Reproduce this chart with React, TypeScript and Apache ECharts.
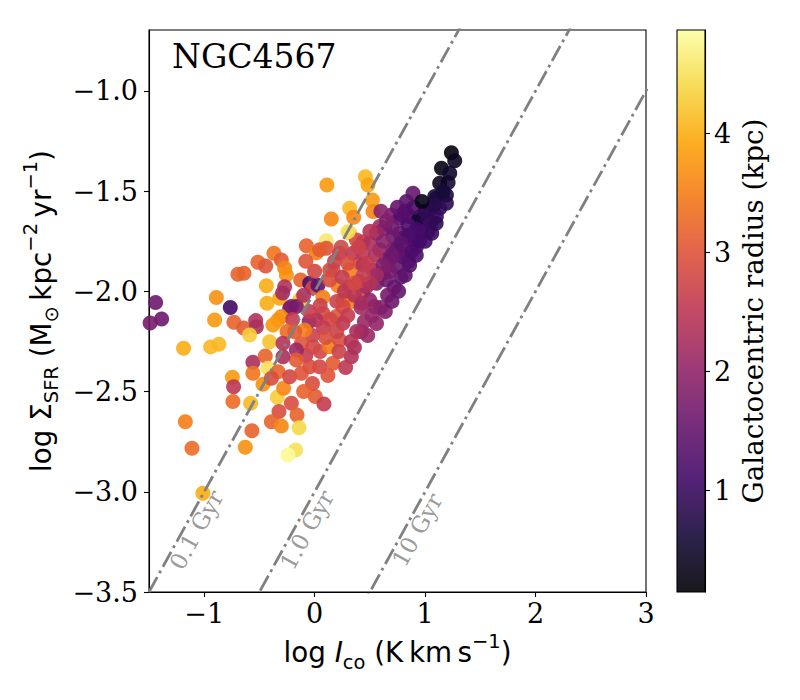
import React, { useEffect, useRef } from "react";
import * as echarts from "echarts";

// ---------- data ----------
const xTicks = [-1, 0, 1, 2, 3];
const yTicks = [-3.5, -3.0, -2.5, -2.0, -1.5, -1.0];
const colorbarTicks = [1, 2, 3, 4];
const xRange = [-1.5, 3];
const yRange = [-3.5, -0.696];
const radiusRange = [0.147, 4.866];

const galaxyName = "NGC4567";
const depletionLabels = ["0.1 Gyr", "1.0 Gyr", "10 Gyr"];
const depletionIntercepts = [-2, -3, -4];
const depletionLineX = [-1.5, 3.5];
const depletionLabelX = [-1.07, -0.07, 0.93];
const depletionLabelY = [-3.19, -3.19, -3.19];

const inferno = [
  "#000004", "#160b39", "#420a68", "#6a176e", "#932667", "#bc3754",
  "#dd513a", "#f37819", "#fca50a", "#f6d746", "#fcffa4",
];

// [log I_co, log Sigma_SFR, radius (kpc)]
const outerPoints: number[][] = [
  [-1.44, -2.056, 1.6], [-1.386, -2.138, 1.6], [-1.49, -2.158, 1.7],
  [-0.764, -2.081, 1.1], [-0.89, -2.031, 3.7], [-0.906, -2.143, 3.8],
  [-0.731, -2.154, 3.2], [-0.643, -2.183, 3.1], [-0.534, -2.146, 2.4],
  [-0.528, -2.176, 2.3], [-0.589, -2.218, 4.3], [-0.695, -1.915, 3.2],
  [-0.64, -1.91, 3.2], [-0.514, -1.855, 3.2], [-0.444, -1.873, 3.0],
  [-0.369, -1.81, 3.4], [-0.302, -1.843, 3.1], [-0.272, -1.883, 3.6],
  [-0.437, -1.972, 4.0], [-0.432, -2.059, 4.0], [-1.187, -2.284, 4.0],
  [-0.942, -2.277, 4.1], [-0.867, -2.264, 4.1], [-0.408, -2.251, 4.2],
  [-0.559, -2.354, 2.3], [-0.447, -2.322, 3.2], [-0.423, -2.384, 4.5],
  [-0.559, -2.409, 3.4], [-0.468, -2.464, 3.7], [-0.745, -2.429, 3.8],
  [-0.734, -2.476, 2.5], [-0.74, -2.55, 3.3], [-0.58, -2.558, 4.1],
  [-0.338, -2.528, 4.3], [-0.281, -2.484, 3.6], [-0.211, -2.558, 2.9],
  [-0.323, -2.6, 2.9], [-0.16, -2.617, 3.2], [0.006, -2.525, 3.1],
  [0.084, -2.562, 2.6], [-0.392, -2.65, 3.2], [-0.302, -2.672, 3.6],
  [-0.142, -2.68, 4.4], [-1.171, -2.65, 3.5], [-1.111, -2.783, 3.3],
  [-0.568, -2.695, 3.2], [-0.628, -2.778, 3.7], [-0.172, -2.791, 4.5],
  [-0.242, -2.816, 4.8], [-1.012, -3.007, 4.0],
];

const leftBlobPoints: number[][] = [
  [-0.256, -1.918, 3.7], [-0.272, -1.977, 2.4], [-0.127, -1.943, 3.2],
  [-0.317, -2.034, 3.9], [-0.226, -2.084, 1.6], [-0.136, -2.043, 4.2],
  [-0.075, -1.773, 3.2], [0.015, -1.808, 3.5], [-0.045, -1.96, 1.2],
  [-0.018, -1.983, 2.8], [-0.29, -2.008, 2.2], [-0.302, -2.126, 3.7],
  [-0.211, -2.076, 1.8], [-0.166, -2.076, 1.7], [-0.05, -2.15, 1.9],
  [0.03, -1.97, 1.4], [-0.02, -2.22, 2.7], [-0.12, -2.26, 3.0],
  [0.05, -2.3, 2.8], [-0.2, -2.14, 2.6], [-0.25, -2.2, 3.3],
  [-0.08, -2.32, 2.6],
];

const ridgePoints: number[][] = [
  [0.106, -1.747, 4.6], [0.106, -1.785, 3.0], [0.226, -1.81, 2.5],
  [0.317, -1.71, 4.3], [0.378, -1.744, 2.8], [0.075, -2.029, 3.5],
  [0.211, -1.972, 3.5], [0.136, -1.893, 2.9], [0.317, -1.893, 3.5],
  [0.408, -1.86, 3.2], [0.256, -2.043, 3.1], [0.332, -2.051, 3.5],
  [0.437, -2.001, 2.9], [0.196, -2.126, 3.0], [0.256, -2.159, 2.5],
  [0.423, -2.201, 2.2], [0.075, -2.109, 2.8], [0.015, -2.143, 2.4],
  [-0.091, -2.193, 3.5], [-0.181, -2.201, 3.1], [-0.332, -2.143, 3.7],
  [-0.378, -2.168, 3.8], [-0.287, -2.259, 2.4], [-0.166, -2.292, 2.1],
  [-0.015, -2.276, 2.8], [0.136, -2.276, 3.5], [0.226, -2.243, 2.9],
  [0.332, -2.326, 2.4], [0.166, -2.359, 3.1], [0.045, -2.376, 2.8],
  [-0.045, -2.376, 2.9], [-0.166, -2.342, 3.1], [-0.287, -2.326, 2.3],
  [-0.332, -2.401, 3.2], [-0.226, -2.426, 2.8], [-0.12, -2.409, 3.0],
  [-0.392, -2.434, 2.9], [0.36, -2.02, 2.4], [0.2, -2.05, 2.7],
  [0.14, -2.14, 2.8], [0.08, -2.18, 2.6], [0.22, -2.3, 2.7],
  [0.28, -2.38, 2.5], [0.12, -2.42, 3.0], [-0.02, -2.46, 2.9],
  [-0.1, -2.5, 3.2], [0.36, -2.28, 2.3], [0.48, -2.22, 2.1],
];

const upperPoints: number[][] = [
  [0.459, -1.428, 4.1], [0.483, -1.469, 3.9], [0.111, -1.469, 3.8],
  [0.317, -1.585, 4.1], [0.523, -1.544, 3.8], [0.528, -1.602, 3.6],
  [0.353, -1.63, 3.6], [0.151, -1.639, 3.6], [0.302, -1.702, 4.5],
  [0.045, -1.793, 3.1], [0.437, -1.752, 2.6], [0.589, -1.677, 2.2],
  [0.695, -1.619, 1.7], [0.77, -1.635, 1.5], [0.861, -1.627, 1.3],
  [0.89, -1.51, 1.5], [0.936, -1.644, 0.9], [1.102, -1.535, 0.7],
  [1.193, -1.56, 0.9], [1.042, -1.594, 0.8], [0.981, -1.677, 1.1],
  [1.026, -1.702, 1.2], [0.861, -1.727, 1.3], [0.77, -1.71, 1.5],
  [0.921, -1.777, 1.2], [0.8, -1.81, 1.4], [0.709, -1.793, 1.6],
  [0.589, -1.793, 2.0], [0.498, -1.76, 2.3], [0.649, -1.843, 1.8],
  [0.74, -1.877, 1.5], [0.619, -1.91, 1.9], [0.528, -1.893, 2.2],
  [0.437, -1.868, 2.4], [0.347, -1.81, 2.5], [0.437, -1.81, 2.5],
  [0.166, -1.893, 2.8], [0.317, -1.977, 2.7], [0.468, -1.977, 2.2],
  [0.559, -1.96, 1.8], [0.649, -1.943, 1.6], [0.498, -2.043, 2.0],
  [0.423, -2.059, 2.3], [0.543, -2.076, 2.0], [0.136, -1.943, 2.9],
  [0.256, -2.076, 2.8],
];

const innerPoints: number[][] = [
  [1.208, -1.457, 0.6], [1.193, -1.519, 0.7], [1.087, -1.527, 0.65],
  [0.831, -1.552, 1.4], [1.132, -1.585, 0.9], [0.95, -1.63, 0.55],
  [1.026, -1.635, 0.9], [1.102, -1.627, 1.0], [0.785, -1.619, 1.3],
  [0.845, -1.669, 1.2], [0.951, -1.71, 1.2], [0.8, -1.735, 1.3],
  [0.89, -1.752, 1.3], [0.634, -1.685, 1.8], [0.559, -1.71, 2.1],
  [0.709, -1.727, 1.6], [0.74, -1.793, 1.5], [0.8, -1.827, 1.4],
  [0.679, -1.843, 1.7], [0.78, -1.93, 1.4], [0.72, -1.98, 1.5],
  [0.66, -2.02, 1.7], [0.6, -2.08, 1.9], [0.52, -2.12, 2.0],
  [0.45, -2.15, 2.1], [0.38, -2.2, 2.3], [0.33, -2.25, 2.4],
  [0.25, -1.93, 2.6], [0.4, -1.95, 2.7], [0.55, -1.82, 2.3],
  [0.62, -1.75, 1.9], [0.3, -2.12, 2.6], [0.2, -2.2, 2.7],
  [0.1, -2.23, 2.9], [0.48, -1.86, 2.6], [0.68, -1.9, 1.7],
  [0.85, -1.85, 1.3], [0.88, -1.8, 1.2], [0.95, -1.75, 1.1],
  [1.05, -1.66, 1.0], [0.7, -1.68, 1.6], [0.42, -2.08, 2.2],
  [0.27, -2.0, 2.5], [0.05, -2.07, 2.7], [-0.05, -2.1, 2.6],
  [-0.1, -2.02, 2.3], [0.0, -1.9, 2.8], [-0.08, -1.85, 3.0],
  [0.18, -1.85, 2.7], [0.6, -1.6, 1.9], [0.65, -1.65, 1.8],
  [0.75, -1.58, 1.5], [0.82, -1.6, 1.3], [0.9, -1.58, 1.2],
  [1.0, -1.6, 0.9], [1.08, -1.57, 0.8], [0.92, -1.69, 1.1],
  [0.85, -1.72, 1.2], [0.78, -1.76, 1.4], [0.7, -1.82, 1.6],
  [0.62, -1.87, 1.8], [0.56, -1.92, 2.2], [0.5, -1.96, 2.4],
  [0.44, -1.92, 2.6], [0.36, -1.96, 2.8], [0.3, -1.86, 2.9],
  [0.24, -1.78, 2.8], [0.4, -1.78, 2.7], [0.5, -1.7, 2.4],
  [0.56, -2.16, 2.0], [0.64, -2.1, 1.8], [0.7, -2.05, 1.6],
  [0.76, -2.0, 1.5], [0.82, -1.92, 1.4], [0.86, -1.87, 1.3],
  [0.92, -1.82, 1.2], [1.0, -1.75, 1.1], [1.06, -1.71, 1.0],
  [1.1, -1.66, 0.9],
];

const centrePoints: number[][] = [
  [0.972, -1.552, 0.3], [1.132, -1.461, 0.4], [1.148, -1.386, 0.3],
  [1.238, -1.308, 0.25], [1.268, -1.348, 0.4], [1.223, -1.411, 0.5],
  [1.162, -1.502, 0.6],
];

// ---------- layout ----------
const PLOT = { left: 149, top: 30, width: 497, height: 562 };
const CBAR = { left: 677, top: 30, width: 28, height: 562 };
const SERIF = "DejaVu Serif";
const SANS = "DejaVu Sans";
const TICK_FS = 27;
const LABEL_FS = 27.8;

const minus = (s: string) => s.replace("-", "\u2212");

function mathRich(fs: number) {
  const sub = fs * 0.7;
  return {
    n: { fontFamily: SANS, fontSize: fs, lineHeight: 40, verticalAlign: "middle", fill: "#000", color: "#000" },
    i: { fontFamily: SANS, fontSize: fs, fontStyle: "italic", lineHeight: 40, verticalAlign: "middle", fill: "#000", color: "#000" },
    sub: { fontFamily: SANS, fontSize: sub, lineHeight: 24, verticalAlign: "bottom", fill: "#000", color: "#000" },
    sup: { fontFamily: SANS, fontSize: sub, lineHeight: 24, verticalAlign: "top", fill: "#000", color: "#000" },
  };
}

export default function App() {
  const ref = useRef<HTMLDivElement>(null);

  useEffect(() => {
    if (!ref.current) return;
    const chart = echarts.init(ref.current, null, { renderer: "svg" });

    const points = [
      ...outerPoints, ...leftBlobPoints, ...ridgePoints,
      ...upperPoints, ...innerPoints, ...centrePoints,
    ];

    const lineSeries = depletionIntercepts.map((c) => ({
      type: "line",
      xAxisIndex: 0,
      yAxisIndex: 0,
      data: depletionLineX.map((x) => [x, x + c]),
      symbol: "none",
      clip: true,
      silent: true,
      z: 5,
      lineStyle: { color: "#808080", width: 2.8, type: [17, 4.5, 2.8, 4.5], cap: "butt" },
    }));

    const option: any = {
      animation: false,
      textStyle: { fontFamily: SERIF },
      grid: [
        { ...PLOT, show: true, borderColor: "#000", borderWidth: 1.1, backgroundColor: "transparent", outerBoundsMode: "none", containLabel: false },
        { ...CBAR, show: false, outerBoundsMode: "none", containLabel: false },
      ],
      xAxis: [
        {
          gridIndex: 0, type: "value", min: xRange[0], max: xRange[1],
          axisLine: { show: true, onZero: false, lineStyle: { color: "#000", width: 1.1 } },
          axisTick: { show: true, length: 5, customValues: xTicks, lineStyle: { color: "#000", width: 1.1 } },
          axisLabel: {
            customValues: xTicks, margin: 8, color: "#000", fontFamily: SERIF, fontSize: TICK_FS,
            formatter: (v: number) => minus(String(v)),
          },
          splitLine: { show: false },
        },
        { gridIndex: 1, type: "value", min: 0, max: 1, show: false },
      ],
      yAxis: [
        {
          gridIndex: 0, type: "value", min: yRange[0], max: yRange[1],
          axisLine: { show: true, onZero: false, lineStyle: { color: "#000", width: 1.1 } },
          axisTick: { show: true, length: 5, customValues: yTicks, lineStyle: { color: "#000", width: 1.1 } },
          axisLabel: {
            customValues: yTicks, margin: 11, color: "#000", fontFamily: SERIF, fontSize: TICK_FS,
            formatter: (v: number) => minus(v.toFixed(1)),
          },
          splitLine: { show: false },
        },
        {
          gridIndex: 1, type: "value", position: "right", min: radiusRange[0], max: radiusRange[1],
          axisLine: { show: true, onZero: false, lineStyle: { color: "#000", width: 1.1 } },
          axisTick: { show: true, length: 5, customValues: colorbarTicks, lineStyle: { color: "#000", width: 1.1 } },
          axisLabel: {
            customValues: colorbarTicks, margin: 9, color: "#000", fontFamily: SERIF, fontSize: TICK_FS,
            formatter: (v: number) => String(v),
          },
          splitLine: { show: false },
          name: "Galactocentric radius (kpc)",
          nameLocation: "middle",
          nameRotate: 90,
          nameGap: 34,
          nameTextStyle: { fontFamily: SERIF, fontSize: LABEL_FS, color: "#000" },
        },
      ],
      visualMap: {
        type: "continuous", show: false, dimension: 2, seriesIndex: 0,
        min: radiusRange[0], max: radiusRange[1],
        inRange: { color: inferno },
      },
      series: [
        {
          type: "scatter",
          xAxisIndex: 0, yAxisIndex: 0,
          data: points,
          symbolSize: 15,
          clip: true,
          silent: true,
          itemStyle: { opacity: 0.9 },
          z: 2,
        },
        ...lineSeries,
        {
          type: "scatter",
          xAxisIndex: 0, yAxisIndex: 0,
          data: depletionLabels.map((t, i) => [depletionLabelX[i], depletionLabelY[i], t]),
          symbolSize: 0,
          silent: true,
          z: 6,
          itemStyle: { color: "transparent" },
          label: {
            show: true, position: "inside", rotate: 61.1,
            formatter: (p: any) => p.data[2],
            color: "#808080", fontFamily: SERIF, fontSize: 23,
            align: "center", verticalAlign: "middle",
          },
        },
      ],
      graphic: [
        {
          type: "rect", z: 1,
          shape: { x: CBAR.left, y: CBAR.top, width: CBAR.width, height: CBAR.height },
          style: {
            fill: new echarts.graphic.LinearGradient(0, 1, 0, 0,
              inferno.map((c, i) => ({ offset: i / (inferno.length - 1), color: c }))),
            opacity: 0.9,
          },
        },
        {
          type: "rect", z: 10,
          shape: { x: CBAR.left, y: CBAR.top, width: CBAR.width, height: CBAR.height },
          style: { fill: "none", stroke: "#000", lineWidth: 1.1 },
        },
        {
          type: "text", z: 10, left: 172, top: 40,
          style: { text: galaxyName, fontFamily: SERIF, fontSize: 33, fill: "#000" },
        },
        {
          type: "text", z: 10, x: PLOT.left + PLOT.width / 2, y: 652,
          style: {
            text: "{n|log }{i|I}{sub|co}{n| (K\u2009km\u2009s}{sup|\u22121}{n|)}",
            rich: mathRich(LABEL_FS), align: "center", verticalAlign: "middle",
            fontFamily: SANS, fontSize: LABEL_FS, fill: "#000",
          },
        },
        {
          type: "text", z: 10, x: 41, y: PLOT.top + PLOT.height / 2, rotation: Math.PI / 2,
          style: {
            text: "{n|log Σ}{sub|SFR}{n| (M}{sub|⊙}{n|\u2009kpc}{sup|\u22122}{n|\u2009yr}{sup|\u22121}{n|)}",
            rich: mathRich(LABEL_FS), align: "center", verticalAlign: "middle",
            fontFamily: SANS, fontSize: LABEL_FS, fill: "#000",
          },
        },
      ],
    };

    chart.setOption(option);
    return () => chart.dispose();
  }, []);

  return (
    <div
      ref={ref}
      style={{ position: "fixed", left: 0, top: 0, width: 800, height: 700, background: "#fff" }}
    />
  );
}
